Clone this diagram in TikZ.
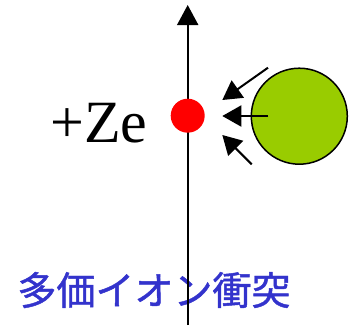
\documentclass[tikz,border=0pt]{standalone}
\usepackage{fontspec}
\newfontfamily\tnr{Liberation Serif}
\newfontfamily\cjk{Noto Sans CJK JP}[FakeBold=1.2]
\usetikzlibrary{arrows.meta}
\definecolor{ballgreen}{RGB}{153,204,0}
\definecolor{labelblue}{RGB}{51,51,204}
\tikzset{
  shot/.style={line width=2pt, -{Triangle[length=19pt,width=21pt]}},
  axis/.style={line width=2pt, -{Triangle[length=20pt,width=21pt]}},
}
\begin{document}
\begin{tikzpicture}[x=1pt,y=-1pt]
\useasboundingbox (0,0) rectangle (356,325);
\node[font=\cjk\fontsize{39}{44}\selectfont, text=labelblue, anchor=center, inner sep=0] (jp) at (154,290) {多価イオン衝突};
\coordinate (bot) at (187.7,325);
\coordinate (top) at (187.7,5);
\draw[axis] (bot) -- (top);
\node[circle, fill=red, minimum size=34pt, inner sep=0] (ion) at (187.7,115.7) {};
\node[circle, draw=black, line width=1.5pt, fill=ballgreen, minimum size=96pt, inner sep=0] (ball) at (299.3,116.2) {};
\node[font=\tnr\fontsize{60}{66}\selectfont, anchor=base west, inner sep=0] (ze) at (50,142.7) {+Ze};
\coordinate (s1) at (268,67.7);
\coordinate (t1) at (222.3,100);
\coordinate (s2) at (268.3,116);
\coordinate (t2) at (222.3,116);
\coordinate (s3) at (251.7,164.3);
\coordinate (t3) at (222.3,135);
\draw[shot] (s1) -- (t1);
\draw[shot] (s2) -- (t2);
\draw[shot] (s3) -- (t3);
\end{tikzpicture}
\end{document}
